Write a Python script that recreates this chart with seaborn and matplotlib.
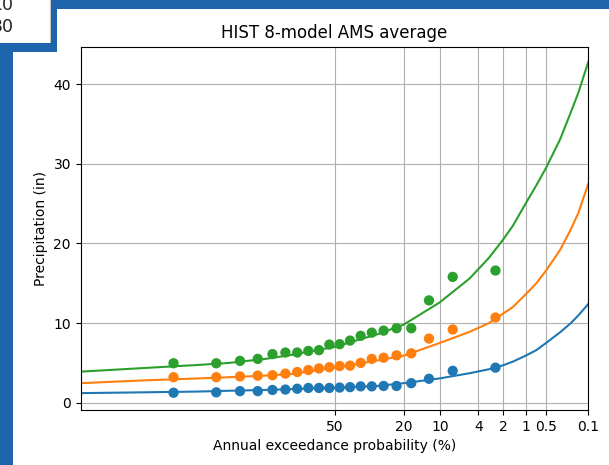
import numpy as np
import pandas as pd
import matplotlib
matplotlib.use("Agg")
import matplotlib.pyplot as plt
import seaborn as sns
from matplotlib.patches import Rectangle
from statistics import NormalDist

# plotting positions of the 20 annual maxima (exceedance %)
ams_pct = [97.5, 92.5, 87.5, 82.5, 77.5, 72.5, 67.5, 62.5, 57.5, 52.5,
           47.5, 42.5, 37.5, 32.5, 27.5, 22.5, 17.5, 12.5, 7.5, 2.5]

# sorted AMS depths (in) for the three series
ams_blue = [1.25, 1.3, 1.45, 1.45, 1.6, 1.65, 1.75, 1.85, 1.85, 1.85,
            1.9, 1.95, 2.05, 2.05, 2.1, 2.1, 2.45, 3.0, 4.0, 4.4]
ams_orange = [3.2, 3.2, 3.3, 3.4, 3.45, 3.65, 3.85, 4.1, 4.3, 4.45,
              4.6, 4.65, 5.0, 5.5, 5.65, 5.95, 6.2, 8.05, 9.2, 10.7]
ams_green = [4.95, 4.95, 5.25, 5.5, 6.1, 6.3, 6.3, 6.5, 6.6, 7.3,
             7.35, 7.8, 8.4, 8.8, 9.05, 9.35, 9.35, 12.85, 15.8, 16.6]

# fitted frequency curves
fit_pct = [99.9, 99, 95, 90, 80, 70, 50, 30, 20, 10, 5, 3, 2, 1.5, 1,
           0.7, 0.5, 0.3, 0.2, 0.15, 0.1]
fit_blue = [1.2, 1.3, 1.4, 1.5, 1.6, 1.7, 1.85, 2.1, 2.45, 3.05, 3.7, 4.2,
            4.7, 5.15, 5.9, 6.6, 7.5, 8.85, 10.0, 10.95, 12.4]
fit_orange = [2.45, 2.8, 3.05, 3.2, 3.4, 3.6, 4.4, 5.3, 5.9, 7.5, 8.9, 10.0,
              11.2, 12.0, 13.6, 15.0, 16.6, 19.2, 21.8, 23.8, 27.5]
fit_green = [3.9, 4.35, 4.75, 5.0, 5.5, 6.0, 7.0, 8.6, 9.8, 12.6, 15.6, 18.2,
             20.5, 22.2, 25.0, 27.3, 29.5, 33.1, 36.5, 38.9, 42.8]

series = ["1-day", "10-day", "30-day"]
colors = ["#1f77b4", "#ff7f0e", "#2ca02c"]
xticks = [50, 20, 10, 4, 2, 1, 0.5, 0.1]
xtick_labels = ["50", "20", "10", "4", "2", "1", "0.5", "0.1"]

pts = pd.DataFrame({
    "pct": ams_pct * 3,
    "precip": ams_blue + ams_orange + ams_green,
    "series": np.repeat(series, len(ams_pct)),
})
fits = pd.DataFrame({
    "pct": fit_pct * 3,
    "precip": fit_blue + fit_orange + fit_green,
    "series": np.repeat(series, len(fit_pct)),
})
palette = dict(zip(series, colors))

# normal probability scale for exceedance %
_nd = NormalDist()
_to_z = np.vectorize(lambda p: _nd.inv_cdf(1 - min(max(p, 1e-6), 100 - 1e-6) / 100), otypes=[float])
_to_p = np.vectorize(lambda z: (1 - _nd.cdf(z)) * 100, otypes=[float])

W, H = 609, 465
fig = plt.figure(figsize=(W / 100, H / 100), dpi=100)
ax = fig.add_axes([80.7 / W, 1 - 410 / H, (588.3 - 80.7) / W, (410 - 46.7) / H])

sns.lineplot(data=fits, x="pct", y="precip", hue="series", palette=palette,
             sort=False, legend=False, ax=ax, linewidth=1.5)
sns.scatterplot(data=pts, x="pct", y="precip", hue="series", palette=palette,
                s=55, edgecolor="none", legend=False, ax=ax, zorder=3)

ax.set_xscale("function", functions=(lambda p: _to_z(p), lambda z: _to_p(z)))
ax.set_xlim(0.1, 99.9)
ax.set_xticks(xticks)
ax.set_xticklabels(xtick_labels)
ax.minorticks_off()
ax.set_ylim(-0.92, 44.72)
ax.set_yticks([0, 10, 20, 30, 40])
ax.grid(True, color="#b0b0b0", linewidth=0.8)
ax.set_axisbelow(True)
ax.set_title("HIST 8-model AMS average")
ax.set_xlabel("Annual exceedance probability (%)")
ax.set_ylabel("Precipitation (in)")

# screenshot frame around the figure
blue = "#1d64aa"


def px_rect(x0, y0, x1, y1, **kw):
    fig.add_artist(Rectangle((x0 / W, 1 - y1 / H), (x1 - x0) / W, (y1 - y0) / H,
                             transform=fig.transFigure, **kw))


px_rect(-5, -5, 50, 43, facecolor="white", edgecolor="#c8c8c8", linewidth=1)
px_rect(50.5, 0, 57, 52, facecolor=blue, edgecolor="none")
px_rect(0, 43.5, 57, 52, facecolor=blue, edgecolor="none")
px_rect(57, 0, W, 9, facecolor=blue, edgecolor="none")
px_rect(0, 52, 13.3, H, facecolor=blue, edgecolor="none")
fig.text(13.5 / W, 1 - 4.5 / H, "10", ha="right", va="center", fontsize=12.5, color="#222222")
fig.text(13.5 / W, 1 - 27 / H, "30", ha="right", va="center", fontsize=12.5, color="#222222")

fig.savefig("out.png", dpi=100)
